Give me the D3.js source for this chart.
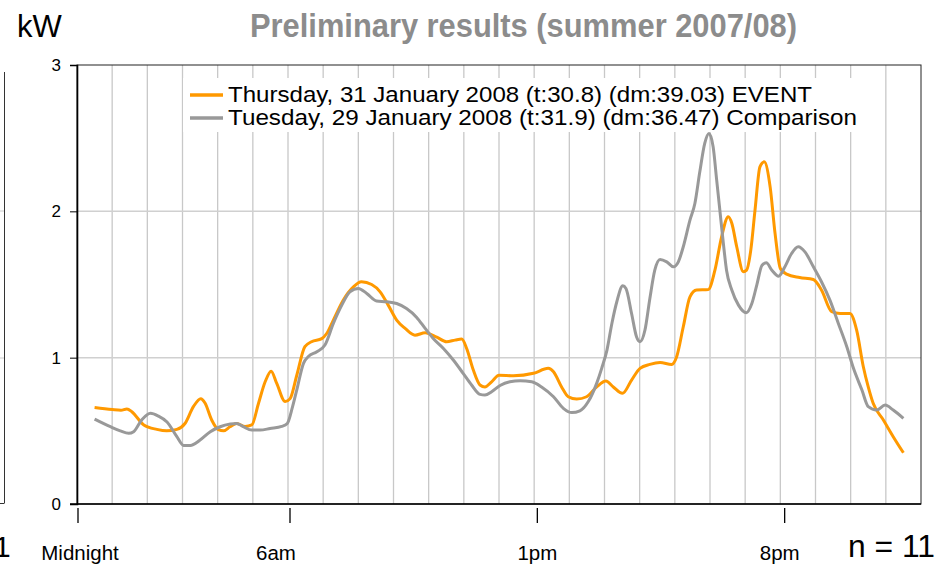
<!DOCTYPE html>
<html>
<head>
<meta charset="utf-8">
<script src="https://cdn.jsdelivr.net/npm/d3@7"></script>
<style>
  body { margin: 0; background: #fff; }
  svg { display: block; font-family: "Liberation Sans", Arial, sans-serif; }
</style>
</head>
<body>
<svg id="chart" width="949" height="565"></svg>
<script>
// Event day (orange) - hour of day / kW
const eventHours = [0.5, 1.0, 1.25, 1.42, 1.56, 1.9, 2.27, 2.55, 2.84, 3.07, 3.31, 3.52, 3.64, 3.83, 4.02, 4.17, 4.35, 4.54, 4.78, 4.97,
  5.16, 5.35, 5.52, 5.68, 5.92, 6.06, 6.25, 6.48, 6.67, 6.96, 7.1, 7.29, 7.57, 7.86, 8.09, 8.38, 8.62, 8.85, 9.09, 9.33,
  9.61, 9.9, 10.23, 10.51, 10.75, 10.94, 11.08, 11.27, 11.46, 11.6, 11.79, 12.0, 12.41, 12.98, 13.4, 13.55, 13.78, 13.97, 14.21, 14.49,
  14.78, 15.04, 15.25, 15.51, 15.77, 16.01, 16.29, 16.58, 16.91, 17.05, 17.24, 17.43, 17.62, 17.95, 18.14, 18.33, 18.52, 18.62, 18.76, 18.95,
  19.04, 19.16, 19.28, 19.42, 19.54, 19.71, 19.85, 20.0, 20.18, 20.55, 20.94, 21.17, 21.46, 21.7, 21.98, 22.17, 22.36, 22.5, 22.64, 22.93,
  23.21, 23.5];
const eventKW = [0.66, 0.645, 0.64, 0.65, 0.63, 0.54, 0.51, 0.50, 0.51, 0.55, 0.665, 0.72, 0.69, 0.574, 0.508, 0.50, 0.528, 0.55, 0.53, 0.54,
  0.687, 0.835, 0.908, 0.824, 0.70, 0.72, 0.88, 1.075, 1.109, 1.13, 1.165, 1.257, 1.393, 1.484, 1.519, 1.50, 1.45, 1.359, 1.257, 1.20,
  1.154, 1.17, 1.14, 1.109, 1.12, 1.127, 1.063, 0.915, 0.813, 0.80, 0.835, 0.88, 0.876, 0.893, 0.927, 0.904, 0.80, 0.733, 0.717, 0.733,
  0.80, 0.84, 0.80, 0.756, 0.847, 0.927, 0.954, 0.967, 0.954, 1.005, 1.211, 1.416, 1.462, 1.465, 1.598, 1.826, 1.963, 1.918, 1.758, 1.587,
  1.598, 1.735, 2.008, 2.304, 2.338, 2.167, 1.849, 1.61, 1.571, 1.548, 1.534, 1.462, 1.314, 1.302, 1.302, 1.188, 0.938, 0.80, 0.688, 0.574,
  0.46, 0.35];

// Comparison day (grey)
const compHours = [0.5, 0.95, 1.23, 1.47, 1.61, 1.85, 2.09, 2.32, 2.56, 2.84, 3.03, 3.22, 3.5, 3.79, 4.07, 4.36, 4.54, 4.73, 4.97, 5.21,
  5.49, 5.82, 5.98, 6.13, 6.25, 6.44, 6.58, 6.82, 7.05, 7.29, 7.53, 7.76, 8.0, 8.24, 8.52, 8.8, 9.09, 9.37, 9.66, 9.9,
  10.13, 10.42, 10.7, 10.98, 11.22, 11.46, 11.6, 11.79, 12.03, 12.31, 12.6, 12.93, 13.21, 13.55, 13.83, 14.07, 14.3, 14.54, 14.78, 14.92,
  15.07, 15.21, 15.35, 15.52, 15.61, 15.77, 15.91, 16.01, 16.15, 16.29, 16.43, 16.58, 16.77, 16.96, 17.1, 17.24, 17.43, 17.57, 17.71, 17.85,
  17.97, 18.09, 18.19, 18.28, 18.38, 18.47, 18.62, 18.81, 19.03, 19.19, 19.33, 19.48, 19.6, 19.76, 19.95, 20.13, 20.32, 20.51, 20.7, 20.94,
  21.17, 21.41, 21.65, 21.89, 22.08, 22.32, 22.5, 22.74, 22.98, 23.21, 23.5];
const compKW = [0.58, 0.528, 0.50, 0.483, 0.494, 0.578, 0.62, 0.60, 0.561, 0.46, 0.40, 0.40, 0.437, 0.494, 0.528, 0.546, 0.55, 0.528, 0.505, 0.505,
  0.516, 0.53, 0.55, 0.665, 0.78, 0.961, 1.008, 1.04, 1.086, 1.234, 1.359, 1.45, 1.473, 1.439, 1.387, 1.382, 1.37, 1.336, 1.275, 1.20,
  1.131, 1.063, 0.984, 0.893, 0.813, 0.749, 0.745, 0.767, 0.81, 0.835, 0.842, 0.835, 0.80, 0.733, 0.654, 0.625, 0.637, 0.70, 0.826, 0.927,
  1.052, 1.234, 1.382, 1.491, 1.473, 1.302, 1.143, 1.109, 1.188, 1.405, 1.598, 1.671, 1.655, 1.621, 1.655, 1.758, 1.94, 2.054, 2.27, 2.464,
  2.532, 2.44, 2.213, 2.008, 1.781, 1.598, 1.462, 1.359, 1.307, 1.37, 1.496, 1.632, 1.648, 1.598, 1.557, 1.621, 1.712, 1.758, 1.723, 1.621,
  1.519, 1.393, 1.234, 1.075, 0.927, 0.779, 0.665, 0.642, 0.676, 0.642, 0.585];

const yTicks = [0, 1, 2, 3];
const timeTicks = [0, 6, 13, 20];
const timeLabels = ["Midnight", "6am", "1pm", "8pm"];
const legendLabels = [
  "Thursday, 31 January 2008 (t:30.8) (dm:39.03) EVENT",
  "Tuesday, 29 January 2008 (t:31.9) (dm:36.47) Comparison"
];
const seriesColors = ["#ff9900", "#999999"];

const svg = d3.select("#chart");
const plotLeft = 77, plotRight = 921, plotTop = 65, plotBottom = 504;

const x = d3.scaleLinear().domain([0, 24]).range([plotLeft, plotRight]);
const y = d3.scaleLinear().domain([0, 3]).range([plotBottom, plotTop]);

// title and corner texts
svg.append("text")
  .attr("x", 250).attr("y", 37)
  .attr("textLength", 547).attr("lengthAdjust", "spacingAndGlyphs")
  .style("font-size", "34px").style("font-weight", "bold").style("fill", "#8c8c8c")
  .text("Preliminary results (summer 2007/08)");

svg.append("text").attr("x", 17).attr("y", 37)
  .style("font-size", "31px").style("fill", "#000").text("kW");

// leftover frame of the neighbour panel
svg.append("line").attr("x1", 4.5).attr("x2", 4.5).attr("y1", 72).attr("y2", 503)
  .style("stroke", "#333").style("stroke-width", 1);
svg.append("line").attr("x1", 0).attr("x2", 4.5).attr("y1", 503.5).attr("y2", 503.5)
  .style("stroke", "#333").style("stroke-width", 1);
[211, 358].forEach(g => svg.append("line").attr("x1", 0).attr("x2", 4).attr("y1", g).attr("y2", g)
  .style("stroke", "#ccc"));
svg.append("text").attr("x", -6).attr("y", 557).style("font-size", "30px").text("1");

svg.append("text").attr("x", 848).attr("y", 557)
  .attr("textLength", 87).attr("lengthAdjust", "spacingAndGlyphs")
  .style("font-size", "31px").text("n = 11");

// gridlines
const grid = svg.append("g");
grid.selectAll("line.v").data(d3.range(1, 24)).enter().append("line")
  .attr("class", "v")
  .attr("x1", d => x(d)).attr("x2", d => x(d))
  .attr("y1", plotTop).attr("y2", plotBottom)
  .style("stroke", "#c8c8c8").style("stroke-width", 1.3);
grid.selectAll("line.h").data([1, 2]).enter().append("line")
  .attr("class", "h")
  .attr("x1", plotLeft).attr("x2", plotRight)
  .attr("y1", d => y(d)).attr("y2", d => y(d))
  .style("stroke", "#d0d0d0").style("stroke-width", 1.5);

// legend box (drawn under the lines)
svg.append("rect").attr("x", 183).attr("y", 78).attr("width", 680).attr("height", 54)
  .style("fill", "#fff");

const legendWidths = [584, 629];
const legend = svg.append("g").selectAll("g").data(legendLabels).enter().append("g")
  .attr("transform", (d, i) => `translate(190, ${95 + i * 23})`);
legend.append("line").attr("x1", 0).attr("x2", 33).attr("y1", 0).attr("y2", 0)
  .style("stroke", (d, i) => seriesColors[i]).style("stroke-width", 3.5);
legend.append("text").attr("x", 38).attr("y", 7)
  .attr("textLength", (d, i) => legendWidths[i]).attr("lengthAdjust", "spacingAndGlyphs")
  .style("font-size", "21.5px").style("fill", "#000").text(d => d);

// lines
const line = d3.line()
  .x(d => x(d[0]))
  .y(d => y(d[1]))
  .curve(d3.curveMonotoneX);

const seriesData = [
  d3.zip(compHours, compKW),
  d3.zip(eventHours, eventKW)
];
svg.append("path").datum(seriesData[1])
  .attr("d", line).style("fill", "none")
  .style("stroke", seriesColors[0]).style("stroke-width", 3).style("stroke-linejoin", "round");
svg.append("path").datum(seriesData[0])
  .attr("d", line).style("fill", "none")
  .style("stroke", seriesColors[1]).style("stroke-width", 3).style("stroke-linejoin", "round");

// frame
svg.append("rect").attr("x", plotLeft).attr("y", plotTop)
  .attr("width", plotRight - plotLeft).attr("height", plotBottom - plotTop)
  .style("fill", "none").style("stroke", "#222").style("stroke-width", 1);

// y axis
const yAxis = svg.append("g")
  .attr("transform", `translate(${plotLeft},0)`)
  .call(d3.axisLeft(y).tickValues(yTicks).tickSize(7).tickPadding(9).tickFormat(d3.format("d")));
yAxis.select(".domain").style("stroke", "#000").style("stroke-width", 1.6);
yAxis.selectAll("text").style("font-size", "17px").style("font-family", "Liberation Sans, Arial, sans-serif").style("fill", "#000");
yAxis.selectAll("line").style("stroke", "#000");

svg.append("line").attr("x1", plotLeft - 7).attr("x2", plotRight).attr("y1", plotBottom).attr("y2", plotBottom)
  .style("stroke", "#000").style("stroke-width", 1.6);

// time-of-day markers below the chart
const tx = d3.scaleLinear().domain([0, 24]).range([78, 926]);
const timeAxis = svg.append("g").selectAll("g").data(timeTicks).enter().append("g")
  .attr("transform", d => `translate(${tx(d)},0)`);
timeAxis.append("line").attr("y1", 508).attr("y2", 523)
  .style("stroke", "#000").style("stroke-width", 1.3);
timeAxis.append("text").attr("y", 560)
  .attr("text-anchor", "middle")
  .attr("dx", (d, i) => [2, -14, 0, -5][i])
  .style("font-size", "20.5px").style("fill", "#000")
  .text((d, i) => timeLabels[i]);
</script>
</body>
</html>
